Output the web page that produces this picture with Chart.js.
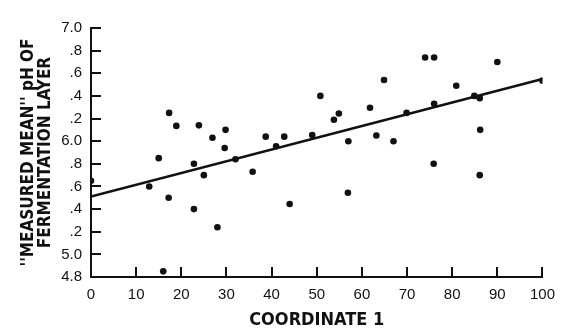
<!DOCTYPE html>
<html><head><meta charset="utf-8">
<script src="https://cdn.jsdelivr.net/npm/chart.js@4/dist/chart.umd.min.js"></script>
<style>html,body{margin:0;padding:0;background:#fff}#wrap{width:574px;height:331px}</style>
</head><body><div id="wrap"><canvas id="c" width="574" height="331"></canvas></div>
<script>
const coordinate1 = [0, 12.9, 15.0, 16.0, 17.2, 17.3, 18.9, 22.8, 22.8, 23.9, 25.0, 26.9, 28.0, 29.6, 29.8, 32.0, 35.8, 38.7, 41.0, 42.8, 44.0, 49.0, 50.8, 53.8, 54.9, 56.9, 57.0, 61.8, 63.2, 64.9, 67.0, 69.9, 74.0, 75.9, 76.0, 76.0, 80.9, 84.9, 86.1, 86.1, 86.2, 90.0, 100];
const measuredPH = [5.65, 5.60, 5.85, 4.85, 5.50, 6.25, 6.135, 5.80, 5.40, 6.14, 5.70, 6.03, 5.24, 5.94, 6.10, 5.84, 5.73, 6.04, 5.955, 6.04, 5.445, 6.055, 6.40, 6.19, 6.245, 5.545, 6.00, 6.295, 6.05, 6.54, 6.00, 6.25, 6.74, 5.80, 6.74, 6.33, 6.49, 6.40, 6.38, 5.70, 6.10, 6.70, 6.535];
const fitX = [0, 100];
const fitY = [5.51, 6.55];
const xTickValues = [0, 10, 20, 30, 40, 50, 60, 70, 80, 90, 100];
const xTickLabels = ['0', '10', '20', '30', '40', '50', '60', '70', '80', '90', '100'];
const yTickValues = [4.8, 5.0, 5.2, 5.4, 5.6, 5.8, 6.0, 6.2, 6.4, 6.6, 6.8, 7.0];
const yTickLabels = ['4.8', '5.0', '.2', '.4', '.6', '.8', '6.0', '.2', '.4', '.6', '.8', '7.0'];
const xTitle = 'COORDINATE 1';
const yTitle = ["''MEASURED MEAN'' pH OF", 'FERMENTATION LAYER'];

const ink = '#111';
const tickFont = {family: "'Liberation Sans', Arial, sans-serif", size: 15};
const condensed = "'Liberation Sans Narrow', 'DejaVu Sans Condensed', sans-serif";

new Chart(document.getElementById('c'), {
  type: 'scatter',
  data: {
    datasets: [
      {
        type: 'scatter',
        data: coordinate1.map((x, i) => ({x: x, y: measuredPH[i]})),
        pointRadius: 3.3,
        pointBackgroundColor: ink,
        pointBorderWidth: 0,
        pointBorderColor: ink
      },
      {
        type: 'line',
        data: fitX.map((x, i) => ({x: x, y: fitY[i]})),
        borderColor: ink,
        borderWidth: 2.5,
        pointRadius: 0,
        fill: false
      }
    ]
  },
  options: {
    responsive: false,
    animation: false,
    devicePixelRatio: 1,
    layout: {padding: {top: 15, right: 13, left: 0, bottom: 0}},
    plugins: {legend: {display: false}, tooltip: {enabled: false}},
    scales: {
      x: {
        type: 'linear', min: 0, max: 100,
        afterBuildTicks: s => { s.ticks = xTickValues.map(v => ({value: v})); },
        afterFit: s => { s.height = 54; },
        grid: {drawOnChartArea: false, drawTicks: true, tickLength: -10, color: ink, lineWidth: 2},
        border: {color: ink, width: 2},
        ticks: {
          padding: 19, color: ink, font: tickFont, maxRotation: 0, autoSkip: false,
          callback: (v, i) => xTickLabels[i]
        },
        title: {display: true, text: xTitle, color: ink, font: {family: condensed, size: 18, weight: 'bold'}, padding: {top: 0, bottom: 0}}
      },
      y: {
        type: 'linear', min: 4.8, max: 7.0,
        afterBuildTicks: s => { s.ticks = yTickValues.map(v => ({value: v})); },
        afterFit: s => { s.width = 91; },
        grid: {drawOnChartArea: false, drawTicks: true, tickLength: -10, color: ink, lineWidth: 2},
        border: {color: ink, width: 2},
        ticks: {
          padding: 19, color: ink, font: tickFont, autoSkip: false,
          callback: (v, i) => yTickLabels[i]
        },
        title: {display: true, text: yTitle, color: ink, font: {family: condensed, size: 17, weight: 'bold', lineHeight: 1.0}, padding: {top: 20, bottom: 0}}
      }
    }
  }
});
</script>
</body></html>
